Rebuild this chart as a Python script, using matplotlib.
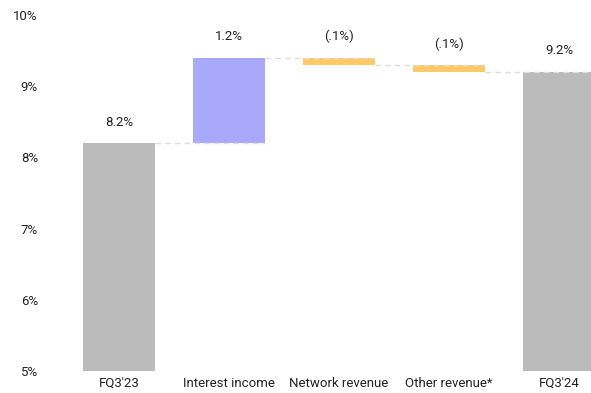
import matplotlib.pyplot as plt

# Waterfall: net interest margin bridge between two fiscal quarters
categories = ["FQ3'23", "Interest income", "Network revenue", "Other revenue*", "FQ3'24"]
changes = [8.2, 1.2, -0.1, -0.1, 9.2]
labels = ["8.2%", "1.2%", "(.1%)", "(.1%)", "9.2%"]
is_total = [True, False, False, False, True]
y_ticks = [5, 6, 7, 8, 9, 10]

GRAY = "#bbbbbb"
UP = "#a9a9fb"
DOWN = "#ffc966"
BASE = 5

plt.rcParams["font.family"] = ["Roboto", "DejaVu Sans"]

fig = plt.figure(figsize=(5.91, 3.93), dpi=100)
ax = fig.add_axes([45 / 591, 22 / 393, 546 / 591, 356 / 393])

width = 0.655
level = 0
tops = []
ends = []
for i, (val, total) in enumerate(zip(changes, is_total)):
    if total:
        bottom, height, color = BASE, val - BASE, GRAY
        level = val
    else:
        start = level
        level = start + val
        bottom, height = min(start, level), abs(val)
        color = UP if val > 0 else DOWN
    ax.bar(i, height, bottom=bottom, width=width, color=color, zorder=2)
    tops.append(bottom + height)
    ends.append(level)

# dashed connectors carrying the running level to the next bar
for i in range(len(categories) - 1):
    ax.plot([i + width / 2, i + 1 + width / 2], [ends[i], ends[i]],
            color="#dddddd", lw=1, ls=(0, (4, 3)), zorder=3)

for i, (top, txt) in enumerate(zip(tops, labels)):
    ax.annotate(txt, (i, top), xytext=(0, 21), textcoords="offset pixels",
                ha="center", va="center", fontsize=9.5, color="#222222")

ax.set_xlim(-0.673, 4.29)
ax.set_ylim(5, 10)
ax.set_xticks(range(len(categories)))
ax.set_xticklabels(categories)
ax.set_yticks(y_ticks)
ax.set_yticklabels([f"{t}%" for t in y_ticks])
ax.tick_params(length=0, labelsize=9.5, labelcolor="#222222")
ax.tick_params(axis="y", pad=5)
ax.tick_params(axis="x", pad=4)
for s in ax.spines.values():
    s.set_visible(False)

fig.savefig("out.png", dpi=100)
